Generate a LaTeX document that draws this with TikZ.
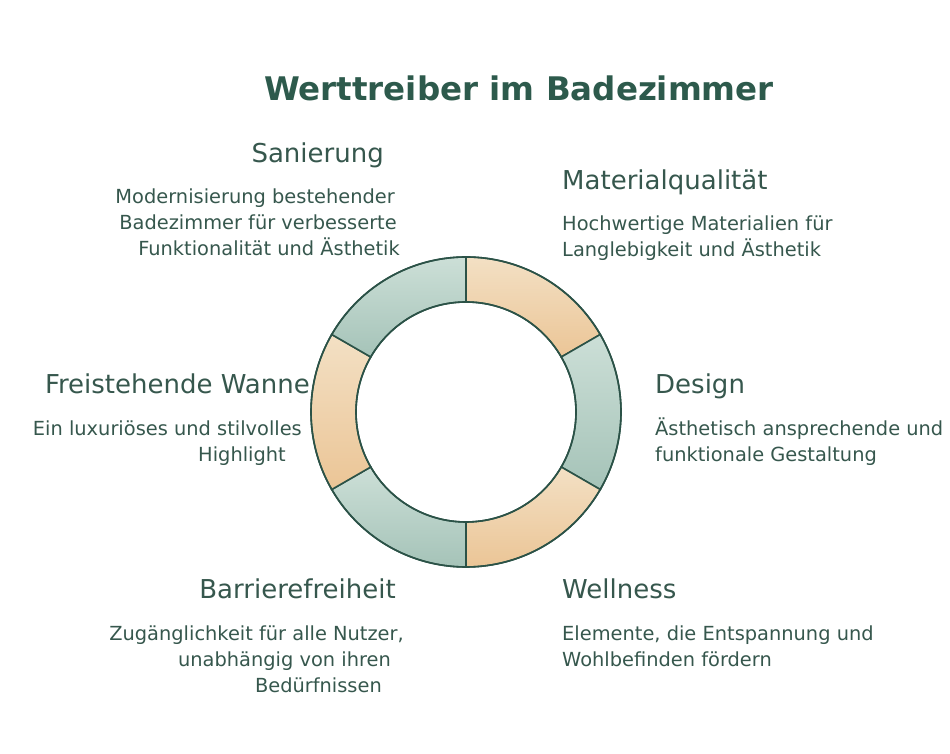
\documentclass[tikz,border=0pt]{standalone}
\usepackage{fontspec}
\setmainfont{DejaVu Sans}
\usepackage{xcolor}
\usepackage{tikz}
\definecolor{titlegreen}{HTML}{2D5A4C}
\definecolor{textgreen}{HTML}{36574D}
\definecolor{ringline}{HTML}{2B5247}
\definecolor{greentop}{HTML}{CCDFD7}
\definecolor{greenbot}{HTML}{A5C3B8}
\definecolor{orangetop}{HTML}{F3E0C4}
\definecolor{orangebot}{HTML}{EBC596}

\begin{document}
\begin{tikzpicture}[x=1pt, y=1pt,
  head/.style={font=\fontsize{26}{30}\selectfont, text=textgreen, inner sep=0pt},
  desc/.style={font=\fontsize{19.4}{26}\selectfont, text=textgreen, inner sep=0pt},
  greenseg/.style={draw=ringline, line width=1.6pt, top color=greentop, bottom color=greenbot},
  orangeseg/.style={draw=ringline, line width=1.6pt, top color=orangetop, bottom color=orangebot}]

  \useasboundingbox (0,0) rectangle (950,754);

  \node[font=\bfseries\fontsize{32.5}{38}\selectfont, text=titlegreen, anchor=base] (title) at (519,653) {Werttreiber im Badezimmer};

  % ring
  \begin{scope}[shift={(466,342)}]
  \shade[orangeseg] (90:155) arc[start angle=90, end angle=30, radius=155] -- (30:110) arc[start angle=30, end angle=90, radius=110] -- cycle;
  \shade[greenseg] (30:155) arc[start angle=30, end angle=-30, radius=155] -- (-30:110) arc[start angle=-30, end angle=30, radius=110] -- cycle;
  \shade[orangeseg] (-30:155) arc[start angle=-30, end angle=-90, radius=155] -- (-90:110) arc[start angle=-90, end angle=-30, radius=110] -- cycle;
  \shade[greenseg] (-90:155) arc[start angle=-90, end angle=-150, radius=155] -- (-150:110) arc[start angle=-150, end angle=-90, radius=110] -- cycle;
  \shade[orangeseg] (-150:155) arc[start angle=-150, end angle=-210, radius=155] -- (150:110) arc[start angle=150, end angle=210, radius=110] -- cycle;
  \shade[greenseg] (150:155) arc[start angle=150, end angle=90, radius=155] -- (90:110) arc[start angle=90, end angle=150, radius=110] -- cycle;
  \draw[ringline, line width=1.6pt] (0,0) circle (155) (0,0) circle (110);
  \end{scope}

  % left side (base of a multi-line node = its last line)
  \node[head, anchor=base east] (san) at (384,591) {Sanierung};
  \node[desc, anchor=base east, align=right] (sandesc) at (400,498) {Modernisierung bestehender\hspace*{5pt}\null\\Badezimmer für verbesserte\hspace*{3pt}\null\\Funktionalität und Ästhetik};

  \node[head, anchor=base east] (wanne) at (310,360) {Freistehende Wanne};
  \node[desc, anchor=base east, align=right] (wannedesc) at (302,292) {Ein luxuriöses und stilvolles\\Highlight\hspace*{16pt}\null};

  \node[head, anchor=base east] (barr) at (396,155) {Barrierefreiheit};
  \node[desc, anchor=base east, align=right] (barrdesc) at (404,61) {Zugänglichkeit für alle Nutzer,\\unabhängig von ihren\hspace*{13pt}\null\\Bedürfnissen\hspace*{22pt}\null};

  % right side
  \node[head, anchor=base west] (mat) at (562,564) {Materialqualität};
  \node[desc, anchor=base west, align=left] (matdesc) at (562,497) {Hochwertige Materialien für\\Langlebigkeit und Ästhetik};

  \node[head, anchor=base west] (design) at (655,360) {Design};
  \node[desc, anchor=base west, align=left] (designdesc) at (655,292) {Ästhetisch ansprechende und\\funktionale Gestaltung};

  \node[head, anchor=base west] (well) at (562,155) {Wellness};
  \node[desc, anchor=base west, align=left] (welldesc) at (562,87) {Elemente, die Entspannung und\\Wohlbefinden fördern};

\end{tikzpicture}
\end{document}
